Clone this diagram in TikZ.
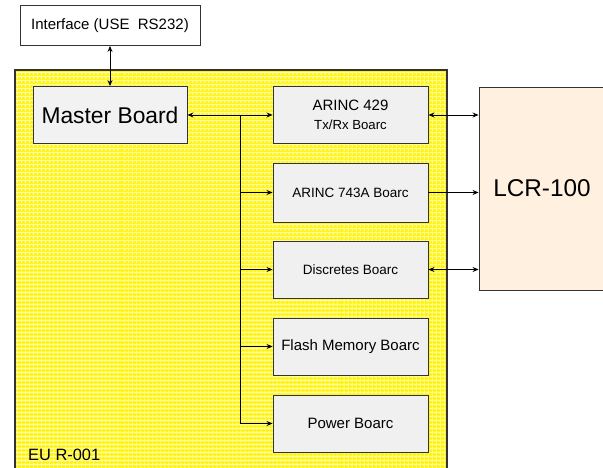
\documentclass[tikz,border=0pt]{standalone}
\usepackage{fontspec}
\setmainfont{Liberation Sans}
\usetikzlibrary{patterns,patterns.meta,arrows.meta}
\begin{document}
\begin{tikzpicture}[x=1pt,y=-1pt,
  boxstyle/.style={draw=black!80, line width=0.9pt, inner sep=2pt},
  board/.style={boxstyle, fill=gray!12, minimum width=155pt, minimum height=57pt, font=\fontsize{15}{19}\selectfont, align=center},
  conn/.style={line width=0.9pt, black},
  tip/.style={-{Stealth[length=6pt,width=5pt]}},
  tips/.style={{Stealth[length=6pt,width=5pt]}-{Stealth[length=6pt,width=5pt]}}]
\useasboundingbox (0,0) rectangle (603,468);
% enclosure
\fill[yellow!95!white] (15,70) rectangle (447,470);
\fill[pattern={Lines[distance=4pt,line width=1.6pt,angle=0]}, pattern color=yellow!35!white] (15,70) rectangle (447,470);
\fill[pattern={Lines[distance=4pt,line width=1.6pt,angle=90]}, pattern color=yellow!35!white] (15,70) rectangle (447,470);
\draw[black!80, line width=1.4pt] (15,470) -- (15,70) -- (447,70) -- (447,470);
\node[anchor=base west, font=\fontsize{16.4}{18}\selectfont, inner sep=0pt] (eu) at (28,460) {EU R-001};
% boxes
\node[boxstyle, fill=white, minimum width=180pt, minimum height=40pt, font=\fontsize{15}{17}\selectfont] (iface) at (110,25.5) {Interface (USE\ \ RS232)};
\node[boxstyle, fill=blue!4!gray!10, minimum width=154pt, minimum height=57pt, font=\fontsize{22.8}{26}\selectfont] (master) at (110,115) {Master Board};
\node[board] (b1) at (350.5,115) {ARINC 429\\{\fontsize{13.2}{15}\selectfont Tx/Rx Boarc}};
\node[board, minimum height=59pt, font=\fontsize{13.5}{15}\selectfont] (b2) at (350.5,192.5) {ARINC 743A Boarc};
\node[board, font=\fontsize{13.5}{15}\selectfont] (b3) at (350.5,269.5) {Discretes Boarc};
\node[board] (b4) at (350.5,346.5) {Flash Memory Boarc};
\node[board] (b5) at (350.5,423.5) {Power Boarc};
\node[boxstyle, fill=orange!12!white, minimum width=126pt, minimum height=203pt, font=\fontsize{24.3}{27}\selectfont] (lcr) at (542,188.5) {LCR-100};
% connectors
\draw[conn, tips] (iface.south) -- (master.north);
\draw[conn, tips] (master.east) -- (b1.west);
\coordinate (j) at (240,115);
\draw[conn, tip] (j) |- (b5.west);
\draw[conn, tip] (j |- b2.west) -- (b2.west);
\draw[conn, tip] (j |- b3.west) -- (b3.west);
\draw[conn, tip] (j |- b4.west) -- (b4.west);
\draw[conn, tips] (b1.east) -- (lcr.west |- b1.east);
\draw[conn, tip] (b2.east) -- (lcr.west |- b2.east);
\draw[conn, tips] (b3.east) -- (lcr.west |- b3.east);
\end{tikzpicture}
\end{document}
